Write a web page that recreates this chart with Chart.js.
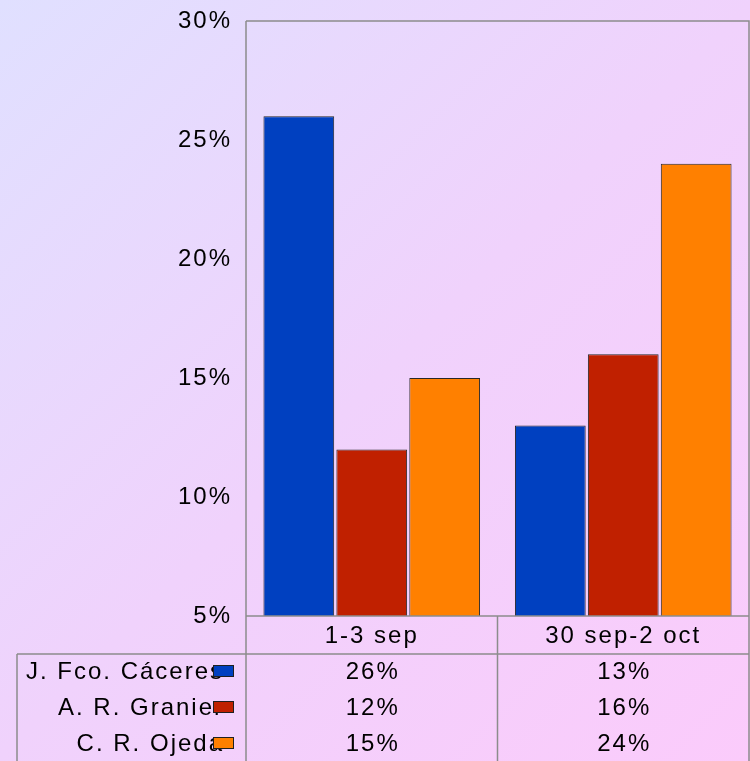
<!DOCTYPE html>
<html>
<head>
<meta charset="utf-8">
<script src="https://cdn.jsdelivr.net/npm/chart.js@4/dist/chart.umd.min.js"></script>
<style>
  html, body { margin: 0; padding: 0; }
  body {
    width: 750px; height: 761px; overflow: hidden;
    background: linear-gradient(135deg, #e0e0ff 0%, #f0d2fc 50%, #fbcbfb 100%);
  }
  #wrap { width: 750px; height: 761px; }
</style>
</head>
<body>
<div id="wrap"><canvas id="grafico"></canvas></div>
<script>
// datos de la encuesta
var periodos = ['1-3 sep', '30 sep-2 oct'];
var candidatos = ['J. Fco. Cáceres', 'A. R. Granier', 'C. R. Ojeda'];
var caceres = [26, 13];
var granier = [12, 16];
var ojeda = [15, 24];
var colores = ['#0040c0', '#c02000', '#ff8000'];

var fuente = "'Liberation Sans', Arial, sans-serif";
var gris = '#8c8c8c';

// bordes del area y tabla de datos
var tablaPlugin = {
  id: 'tabla',
  beforeUpdate: function (chart) { chart.ctx.letterSpacing = '2px'; },
  beforeDraw: function (chart) { chart.ctx.letterSpacing = '2px'; },
  afterDraw: function (chart) {
    var ctx = chart.ctx;
    var a = chart.chartArea;
    var x = chart.scales.x;
    var h = chart.height;
    var filaTop = 654, alto = 36;
    var series = [caceres, granier, ojeda];

    ctx.save();
    ctx.letterSpacing = '2px';
    ctx.strokeStyle = gris;
    ctx.lineWidth = 1.5;
    ctx.beginPath();
    // borde arriba y derecha
    ctx.moveTo(a.left, a.top); ctx.lineTo(a.right, a.top); ctx.lineTo(a.right, h);
    // eje izquierdo hasta abajo
    ctx.moveTo(a.left, a.top); ctx.lineTo(a.left, h);
    // linea del eje x
    ctx.moveTo(a.left, a.bottom); ctx.lineTo(a.right, a.bottom);
    // separador central
    var mid = (x.getPixelForValue(0) + x.getPixelForValue(1)) / 2;
    ctx.moveTo(mid, a.bottom); ctx.lineTo(mid, h);
    // cabecera de la tabla
    ctx.moveTo(17, filaTop); ctx.lineTo(a.right, filaTop);
    ctx.moveTo(17, filaTop); ctx.lineTo(17, h);
    ctx.stroke();

    ctx.font = '24px ' + fuente;
    ctx.fillStyle = '#000';
    ctx.textBaseline = 'middle';
    for (var r = 0; r < candidatos.length; r++) {
      var cy = filaTop + alto * r + alto / 2;
      ctx.textAlign = 'right';
      ctx.fillText(candidatos[r], 224, cy);
      ctx.fillStyle = colores[r];
      ctx.fillRect(213, cy - 7, 21, 12);
      ctx.strokeStyle = '#202020';
      ctx.lineWidth = 1;
      ctx.strokeRect(213.5, cy - 6.5, 20, 11);
      ctx.fillStyle = '#000';
      ctx.textAlign = 'center';
      for (var c = 0; c < periodos.length; c++) {
        ctx.fillText(series[r][c] + '%', x.getPixelForValue(c) + 1, cy);
      }
    }
    ctx.restore();
  }
};

var ctx = document.getElementById('grafico').getContext('2d');
var chart = new Chart(ctx, {
  type: 'bar',
  data: {
    labels: periodos,
    datasets: [
      { label: candidatos[0], data: caceres, backgroundColor: colores[0] },
      { label: candidatos[1], data: granier, backgroundColor: colores[1] },
      { label: candidatos[2], data: ojeda, backgroundColor: colores[2] }
    ]
  },
  options: {
    responsive: true,
    maintainAspectRatio: false,
    animation: false,
    layout: { padding: { top: 21, right: 1, bottom: 107, left: 0 } },
    datasets: {
      bar: {
        borderColor: '#282828',
        borderWidth: 1,
        borderSkipped: false,
        barPercentage: 0.97,
        categoryPercentage: 0.87
      }
    },
    plugins: {
      legend: { display: false },
      tooltip: { enabled: false }
    },
    scales: {
      x: {
        grid: { display: false, drawTicks: false },
        border: { display: false },
        ticks: { color: '#000', padding: 6, font: { family: fuente, size: 24 } },
        afterFit: function (s) { s.height = 38; }
      },
      y: {
        min: 5,
        max: 30,
        grid: { display: false, drawTicks: false },
        border: { display: false },
        ticks: {
          stepSize: 5,
          color: '#000',
          padding: 14,
          font: { family: fuente, size: 24 },
          callback: function (v) { return v + '%'; }
        },
        afterFit: function (s) {
          s.width = 246;
          s.paddingTop = 0;
          s.paddingBottom = 0;
        }
      }
    }
  },
  plugins: [tablaPlugin]
});
</script>
</body>
</html>
